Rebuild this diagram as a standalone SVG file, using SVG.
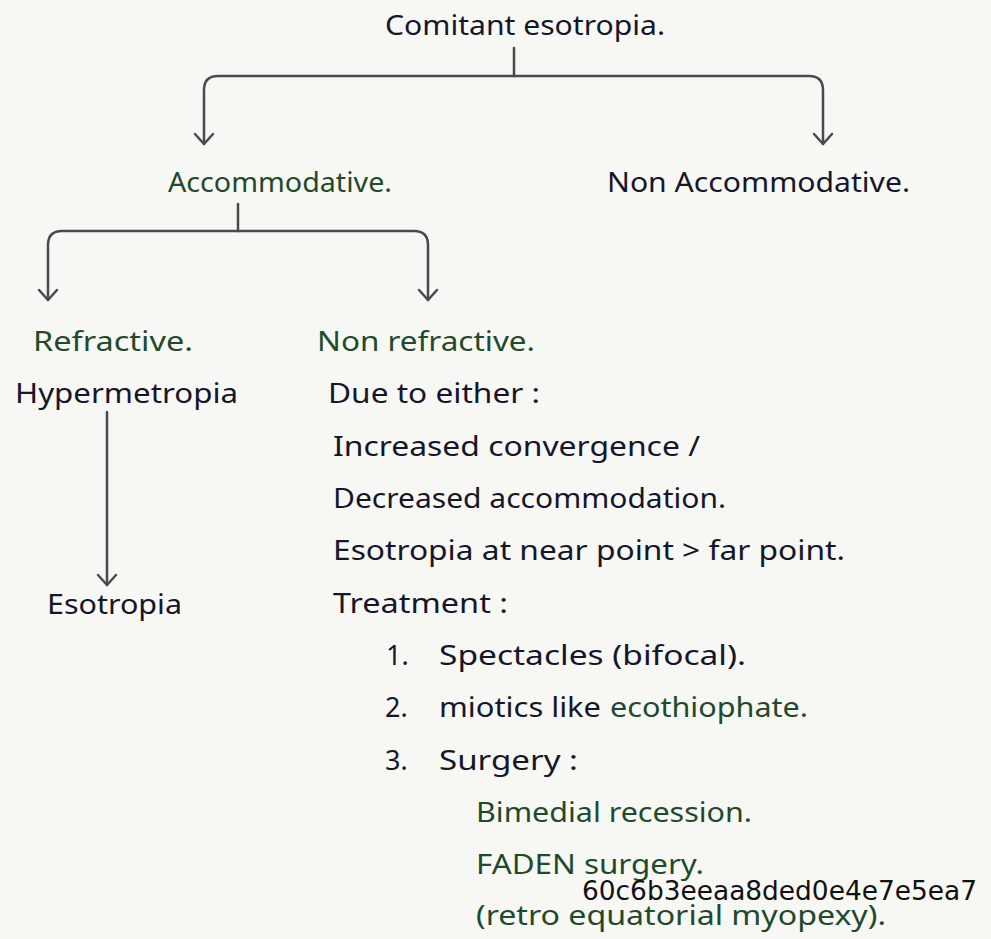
<svg xmlns="http://www.w3.org/2000/svg" width="991" height="939" viewBox="0 0 991 939">
  <style>
    .t { font-family: "Noto Sans", "Liberation Sans", sans-serif; font-size: 27px; fill: #16162a; }
    .g { fill: #1f4a2c; }
    .link { fill: none; stroke: #4a4a4a; stroke-width: 2.5; stroke-linecap: round; stroke-linejoin: round; }
    .tag { font-family: "DejaVu Sans", sans-serif; font-size: 26px; fill: #111111; }
  </style>
  <defs>
    <marker id="arr" markerUnits="userSpaceOnUse" markerWidth="26" markerHeight="26" viewBox="-13 -13 26 26" refX="0" refY="0" orient="auto">
      <path d="M-10,-9 L0,0 L-10,9" fill="none" stroke="#4a4a4a" stroke-width="2.5" stroke-linecap="round" stroke-linejoin="round"/>
    </marker>
  </defs>

  <rect width="991" height="939" fill="#f7f7f4"/>

  <!-- connectors -->
  <g id="connectors">
    <path class="link" d="M514,48 V76"/>
    <path class="link" d="M514,76 H218 Q204,76 204,90 V144" marker-end="url(#arr)"/>
    <path class="link" d="M514,76 H809 Q823,76 823,90 V144" marker-end="url(#arr)"/>
    <path class="link" d="M238,204 V231"/>
    <path class="link" d="M238,231 H62 Q48,231 48,245 V300" marker-end="url(#arr)"/>
    <path class="link" d="M238,231 H414 Q428,231 428,245 V300" marker-end="url(#arr)"/>
    <path class="link" d="M107,412 V585" marker-end="url(#arr)"/>
  </g>

  <!-- nodes -->
  <g id="comitant-esotropia">
    <text class="t" x="385" y="35" textLength="280" lengthAdjust="spacingAndGlyphs">Comitant esotropia.</text>
  </g>
  <g id="accommodative">
    <text class="t g" x="168" y="192" textLength="224" lengthAdjust="spacingAndGlyphs">Accommodative.</text>
  </g>
  <g id="non-accommodative">
    <text class="t" x="607" y="192" textLength="303" lengthAdjust="spacingAndGlyphs">Non Accommodative.</text>
  </g>
  <g id="refractive">
    <text class="t g" x="33" y="351" textLength="160" lengthAdjust="spacingAndGlyphs">Refractive.</text>
  </g>
  <g id="non-refractive">
    <text class="t g" x="317" y="351" textLength="218" lengthAdjust="spacingAndGlyphs">Non refractive.</text>
  </g>
  <g id="hypermetropia">
    <text class="t" x="15" y="403" textLength="223" lengthAdjust="spacingAndGlyphs">Hypermetropia</text>
  </g>
  <g id="esotropia">
    <text class="t" x="47" y="614" textLength="135" lengthAdjust="spacingAndGlyphs">Esotropia</text>
  </g>

  <g id="non-refractive-notes">
    <text class="t" x="328" y="403" textLength="212" lengthAdjust="spacingAndGlyphs">Due to either :</text>
    <text class="t" x="333" y="456" textLength="367" lengthAdjust="spacingAndGlyphs">Increased convergence /</text>
    <text class="t" x="333" y="508" textLength="393" lengthAdjust="spacingAndGlyphs">Decreased accommodation.</text>
    <text class="t" x="333" y="560" textLength="512" lengthAdjust="spacingAndGlyphs">Esotropia at near point &gt; far point.</text>
    <text class="t" x="333" y="613" textLength="175" lengthAdjust="spacingAndGlyphs">Treatment :</text>

    <text class="t" x="386" y="665">1.</text>
    <text class="t" x="439" y="665" textLength="307" lengthAdjust="spacingAndGlyphs">Spectacles (bifocal).</text>

    <text class="t" x="385" y="717">2.</text>
    <text class="t" x="439" y="717" textLength="162" lengthAdjust="spacingAndGlyphs">miotics like</text>
    <text class="t g" x="610" y="717" textLength="198" lengthAdjust="spacingAndGlyphs">ecothiophate.</text>

    <text class="t" x="385" y="770">3.</text>
    <text class="t" x="439" y="770" textLength="139" lengthAdjust="spacingAndGlyphs">Surgery :</text>

    <text class="t g" x="476" y="822" textLength="276" lengthAdjust="spacingAndGlyphs">Bimedial recession.</text>
    <text class="t g" x="476" y="874" textLength="228" lengthAdjust="spacingAndGlyphs">FADEN surgery.</text>
    <text class="t g" x="476" y="925" textLength="410" lengthAdjust="spacingAndGlyphs">(retro equatorial myopexy).</text>
  </g>

  <text class="tag" x="582" y="900" textLength="395" lengthAdjust="spacingAndGlyphs">60c6b3eeaa8ded0e4e7e5ea7</text>
</svg>
